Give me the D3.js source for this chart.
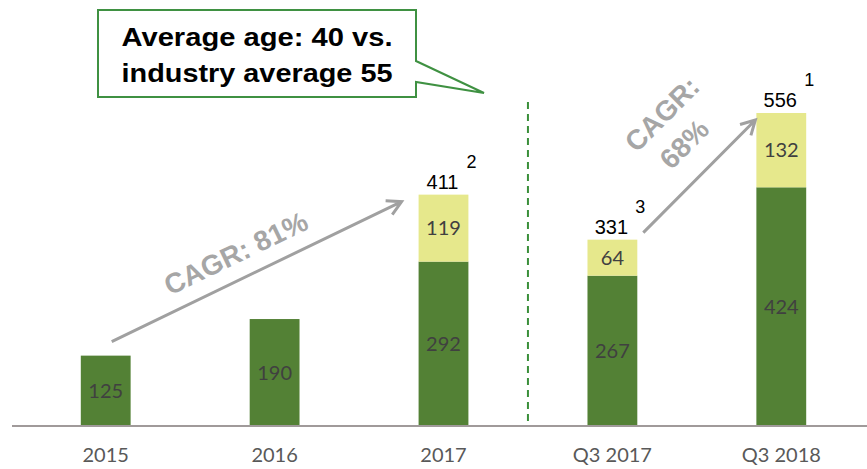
<!DOCTYPE html>
<html><head><meta charset="utf-8">
<script src="https://cdn.jsdelivr.net/npm/d3@7"></script>
<style>html,body{margin:0;padding:0;background:#fff;}</style>
</head><body>
<svg id="c" width="867" height="469"></svg>
<script>
const categories = ["2015","2016","2017","Q3 2017","Q3 2018"];
const baseValues = [125,190,292,267,424];
const topValues  = [0,0,119,64,132];
const totals     = [null,null,411,331,556];
const footnotes  = [null,null,"2","3","1"];
const calloutLines = ["Average age: 40 vs.","industry average 55"];
const cagrLeft = ["CAGR: 81%"];
const cagrRight = ["CAGR:","68%"];

const svg = d3.select("#c");
const x = d3.scaleBand().domain(categories).range([20,867]).paddingInner(0.705).paddingOuter(0.36);
const y = d3.scaleLinear().domain([0,556]).range([426,113]);
const GREEN="#538135", YELLOW="#e6e88c";

// bars
const g = svg.append("g");
categories.forEach((c,i)=>{
  const b=baseValues[i], t=topValues[i];
  g.append("rect").attr("x",x(c)).attr("width",x.bandwidth())
    .attr("y",y(b)).attr("height",y(0)-y(b)).attr("fill",GREEN);
  g.append("text").attr("x",x(c)+x.bandwidth()/2).attr("y",(y(b)+y(0))/2)
    .attr("dy","0.36em").attr("text-anchor","middle")
    .style("font-family","Lato, 'Open Sans', sans-serif").style("font-size","20px").attr("fill","#404040").text(b);
  if(t>0){
    g.append("rect").attr("x",x(c)).attr("width",x.bandwidth())
      .attr("y",y(b+t)).attr("height",y(b)-y(b+t)).attr("fill",YELLOW);
    g.append("text").attr("x",x(c)+x.bandwidth()/2).attr("y",(y(b+t)+y(b))/2)
      .attr("dy","0.36em").attr("text-anchor","middle")
      .style("font-family","Lato, 'Open Sans', sans-serif").style("font-size","20px").attr("fill","#404040").text(t);
  }
  if(totals[i]!=null){
    g.append("text").attr("x",x(c)+x.bandwidth()/2-1).attr("y",y(totals[i])-6)
      .attr("text-anchor","middle")
      .style("font-family","Arial, 'Liberation Sans', sans-serif").style("font-size","20px").attr("fill","#000").text(totals[i]);
    g.append("text").attr("x",x(c)+x.bandwidth()+3).attr("y",y(totals[i])-27)
      .attr("text-anchor","middle")
      .style("font-family","Arial, 'Liberation Sans', sans-serif").style("font-size","18px").attr("fill","#000").text(footnotes[i]);
  }
});

// axis
const axis = d3.axisBottom(x).tickSize(0).tickPadding(22);
const ax = svg.append("g").attr("transform","translate(0,426)").call(axis);
ax.select(".domain").attr("stroke","#a09a9a").attr("stroke-width",2).attr("d","M12,0H867");
ax.selectAll("text").style("font-family","Lato, 'Open Sans', sans-serif").style("font-size","20px").attr("fill","#595959");

// dashed divider
const divX = (x("2017")+x.bandwidth()+x("Q3 2017"))/2;
svg.append("line").attr("x1",divX).attr("x2",divX).attr("y1",102).attr("y2",426)
  .attr("stroke","#3a8f3a").attr("stroke-width",2).attr("stroke-dasharray","7,5");

// arrows
function arrow(x1,y1,x2,y2){
  const a=Math.atan2(y2-y1,x2-x1), L=16, s=0.5;
  svg.append("path").attr("d",`M${x1},${y1}L${x2},${y2}M${x2-L*Math.cos(a-s)},${y2-L*Math.sin(a-s)}L${x2},${y2}L${x2-L*Math.cos(a+s)},${y2-L*Math.sin(a+s)}`)
    .attr("fill","none").attr("stroke","#a0a0a0").attr("stroke-width",3).attr("stroke-linecap","butt");
}
arrow(x("2015")+x.bandwidth()/2+6, y(baseValues[0])-14, x("2017")-17, y(totals[2])+7);
arrow(x("Q3 2017")+x.bandwidth()+6, y(totals[3])-7, x("Q3 2018")-1, y(totals[4])+7);

const cagrStyle = t=>t.style("font-family","Arial, 'Liberation Sans', sans-serif").style("font-weight","bold")
  .style("font-size","28px").attr("fill","#a6a6a6").attr("text-anchor","middle");
svg.append("text").attr("transform","translate(240,262) rotate(-25.7)").call(cagrStyle).text(cagrLeft[0]);
svg.append("text").attr("transform","translate(669,121) rotate(-45)").call(cagrStyle).text(cagrRight[0]);
svg.append("text").attr("transform","translate(691,151) rotate(-45)").call(cagrStyle).text(cagrRight[1]);

// callout
svg.append("path").attr("d","M98,10H416V61L484,93L416,82V97H98Z")
  .attr("fill","#fff").attr("stroke","#3f9142").attr("stroke-width",2);
calloutLines.forEach((l,i)=>{
  svg.append("text").attr("x",257).attr("y",46+i*36).attr("text-anchor","middle")
    .attr("textLength",271).attr("lengthAdjust","spacingAndGlyphs")
    .style("font-family","Arial, 'Liberation Sans', sans-serif").style("font-weight","bold")
    .style("font-size","26px").attr("fill","#000").text(l);
});
</script>
</body></html>
